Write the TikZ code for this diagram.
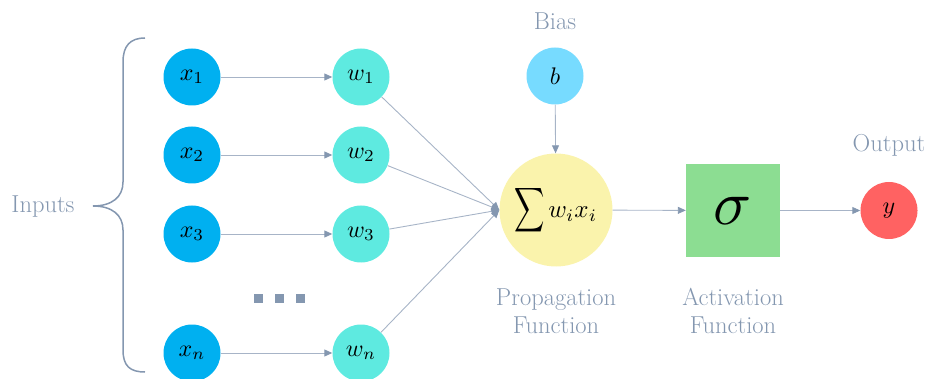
\documentclass[tikz,border=0pt]{standalone}
\usetikzlibrary{arrows.meta}
\definecolor{txt}{HTML}{8497B0}
\definecolor{edge}{HTML}{A7B4C7}
\definecolor{xin}{HTML}{00B0F0}
\definecolor{wcol}{HTML}{5EEAE0}
\definecolor{bcol}{HTML}{77DBFF}
\definecolor{scol}{HTML}{FAF3AC}
\definecolor{gcol}{HTML}{8CDD92}
\definecolor{ycol}{HTML}{FF6262}
\newcommand{\mymath}[2]{\scalebox{#1}{$#2$}}
\begin{document}
\begin{tikzpicture}[x=1pt,y=-1pt,
  neuron/.style={circle, minimum size=57pt, inner sep=0pt},
  lbl/.style={text=txt, font=\fontsize{24.5}{28}\selectfont, align=center},
  conn/.style={draw=edge, line width=0.9pt, -{Triangle[length=8pt,width=7pt,fill=txt,color=txt]}},
  dotbox/.style={fill=txt, minimum size=9pt, inner sep=0pt}]
\useasboundingbox (0,0) rectangle (928,379);
% inputs
\node[neuron, fill=xin] (x1) at (192,77) {\mymath{2.4}{x_1}};
\node[neuron, fill=xin] (x2) at (192,155) {\mymath{2.4}{x_2}};
\node[neuron, fill=xin] (x3) at (192,234) {\mymath{2.4}{x_3}};
\node[neuron, fill=xin] (xn) at (192,353) {\mymath{2.4}{x_n}};
% weights
\node[neuron, fill=wcol] (w1) at (361,77) {\mymath{2.4}{w_1}};
\node[neuron, fill=wcol] (w2) at (361,155) {\mymath{2.4}{w_2}};
\node[neuron, fill=wcol] (w3) at (361,234) {\mymath{2.4}{w_3}};
\node[neuron, fill=wcol] (wn) at (361,353) {\mymath{2.4}{w_n}};
% dots
\node[dotbox] (d1) at (258.5,298) {};
\node[dotbox] (d2) at (279.5,298) {};
\node[dotbox] (d3) at (300.5,298) {};
% bias, sum, activation, output
\node[neuron, fill=bcol] (b) at (555,76) {\mymath{2.4}{b}};
\node[circle, fill=scol, minimum size=113pt, inner sep=0pt] (s) at (556,210)
  {\scalebox{2.1}[3.1]{$\displaystyle\sum$}\hspace{3pt}\mymath{2.5}{w_ix_i}};
\node[fill=gcol, minimum width=94pt, minimum height=93pt, inner sep=0pt] (act) at (733,210.5) {\mymath{6.3}{\sigma}};
\node[neuron, fill=ycol] (y) at (889,210.5) {\mymath{2.4}{y}};
% labels
\node[lbl] (inputs) at (43,207) {Inputs};
\node[lbl] (bias) at (555,21) {Bias};
\node[lbl] (out) at (889,145) {Output};
\node[lbl] (prop) at (556,311) {Propagation\\Function};
\node[lbl] (actl) at (733,311) {Activation\\Function};
% brace
\draw[txt, line width=1.5pt]
  (145,38) .. controls (130,38) and (123,46) .. (123,62)
  -- (123,182) .. controls (123,197) and (112,206) .. (93,206)
  .. controls (112,206) and (123,215) .. (123,230)
  -- (123,350) .. controls (123,366) and (130,372) .. (145,372);
% connectors
\draw[conn] (x1) -- (w1);
\draw[conn] (x2) -- (w2);
\draw[conn] (x3) -- (w3);
\draw[conn] (xn) -- (wn);
\draw[conn] (w1) -- (s.west);
\draw[conn] (w2) -- (s.west);
\draw[conn] (w3) -- (s.west);
\draw[conn] (wn) -- (s.west);
\draw[conn] (b) -- (s);
\draw[conn] (s) -- (act);
\draw[conn] (act) -- (y);
\end{tikzpicture}
\end{document}
